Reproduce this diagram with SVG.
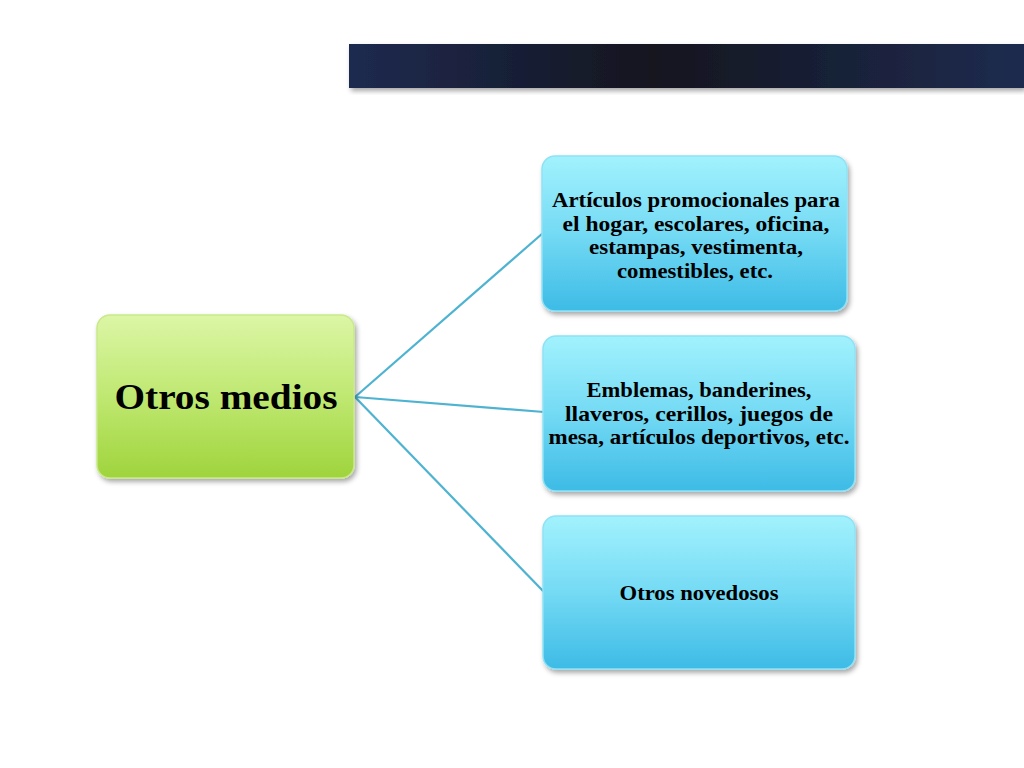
<svg xmlns="http://www.w3.org/2000/svg" width="1024" height="768" viewBox="0 0 1024 768">
<defs>
<linearGradient id="bar" x1="0" y1="0" x2="1" y2="0">
<stop offset="0" stop-color="#1f2a50"/>
<stop offset="0.45" stop-color="#12161f"/>
<stop offset="1" stop-color="#1f2b4f"/>
</linearGradient>
<linearGradient id="green" x1="0" y1="0" x2="0" y2="1">
<stop offset="0" stop-color="#dcf6a6"/>
<stop offset="0.5" stop-color="#bfe871"/>
<stop offset="1" stop-color="#9fd43c"/>
</linearGradient>
<linearGradient id="cyan" x1="0" y1="0" x2="0" y2="1">
<stop offset="0" stop-color="#a2f2fd"/>
<stop offset="0.5" stop-color="#74daf4"/>
<stop offset="1" stop-color="#3dbbe6"/>
</linearGradient>
<filter id="sh" x="-10%" y="-10%" width="125%" height="125%">
<feDropShadow dx="2" dy="3" stdDeviation="2.5" flood-color="#000" flood-opacity="0.35"/>
</filter>
</defs>
<style>
.node rect { filter: url(#sh); }
.g { fill: url(#green); stroke: #c9e98a; stroke-width: 1.5; }
.c { fill: url(#cyan); stroke: #8fe2f6; stroke-width: 1.5; }
text { font-family: "Liberation Serif", "Times New Roman", serif; font-weight: bold; fill: #000; text-anchor: middle; }
.t { font-size: 21.5px; }
.conn line { stroke: #4eb3d1; stroke-width: 2.2; }
</style>
<rect width="1024" height="768" fill="#fff"/>
<rect x="349" y="44" width="675" height="44" fill="url(#bar)" filter="url(#sh)"/>
<g class="conn" id="connectors">
<line x1="355" y1="397" x2="543" y2="233"/>
<line x1="355" y1="397" x2="544" y2="412"/>
<line x1="355" y1="397" x2="544" y2="592"/>
</g>
<g class="node" id="root">
<rect class="g" x="97" y="315" width="257" height="163" rx="13"/>
<text x="226" y="409" font-size="36" textLength="223" lengthAdjust="spacingAndGlyphs">Otros medios</text>
</g>
<g class="node" id="n1">
<rect class="c" x="542" y="156" width="305" height="155" rx="13"/>
<text class="t" x="696" y="207" textLength="288" lengthAdjust="spacingAndGlyphs">Artículos promocionales para</text>
<text class="t" x="696" y="231" textLength="267" lengthAdjust="spacingAndGlyphs">el hogar, escolares, oficina,</text>
<text class="t" x="696" y="254" textLength="214" lengthAdjust="spacingAndGlyphs">estampas, vestimenta,</text>
<text class="t" x="695" y="278" textLength="156" lengthAdjust="spacingAndGlyphs">comestibles, etc.</text>
</g>
<g class="node" id="n2">
<rect class="c" x="543" y="336" width="312" height="155" rx="13"/>
<text class="t" x="699" y="397" textLength="225" lengthAdjust="spacingAndGlyphs">Emblemas, banderines,</text>
<text class="t" x="699" y="421" textLength="268" lengthAdjust="spacingAndGlyphs">llaveros, cerillos, juegos de</text>
<text class="t" x="699" y="444" textLength="301" lengthAdjust="spacingAndGlyphs">mesa, artículos deportivos, etc.</text>
</g>
<g class="node" id="n3">
<rect class="c" x="543" y="516" width="312" height="153" rx="13"/>
<text class="t" x="699" y="600" textLength="159" lengthAdjust="spacingAndGlyphs">Otros novedosos</text>
</g>
</svg>
